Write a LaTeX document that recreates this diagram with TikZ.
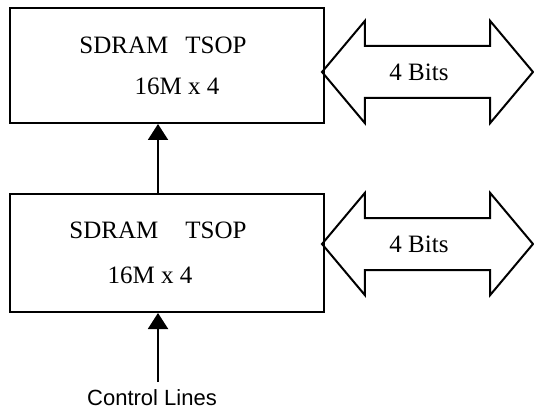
\documentclass[tikz,border=0pt]{standalone}
\usepackage{fontspec}
\setmainfont{Liberation Serif}
\setsansfont{Liberation Sans}
\usepackage{xcolor}
\usepackage{tikz}
\usetikzlibrary{shapes.arrows, arrows.meta, positioning, calc}
\definecolor{linecolor}{RGB}{0,0,0}

\begin{document}
\begin{tikzpicture}[
    x=0.5pt, y=-0.5pt,
    chip/.style={draw=linecolor, line width=1pt, minimum width=157pt, align=center, inner sep=0pt, font=\fontsize{12.5}{15}\selectfont},
    bus/.style={draw=linecolor, line width=1pt, shape=double arrow, double arrow head extend=12.5pt, double arrow tip angle=100, minimum height=105.5pt, inner xsep=0pt, inner ysep=8.2pt, text height=8.6pt, text depth=0pt, font=\fontsize{12.5}{15}\selectfont},
    ctrlarrow/.style={draw=linecolor, line width=1pt, -{Triangle[width=10pt, length=8pt]}}
]
    \useasboundingbox (0,0) rectangle (534,411);

    % memory chips
    \node[chip, minimum height=57.5pt] (chiptop) at (167,65.5)
        {SDRAM\hspace{8.5pt}TSOP\hspace*{4pt}\\[5.5pt]\hspace*{10pt}16M x 4};
    \node[chip, minimum height=59pt] (chipbot) at (167,253)
        {SDRAM\hspace{13.5pt}TSOP\hspace*{9pt}\\[7.5pt]16M x 4\hspace*{17pt}};

    % data buses
    \node[bus] (bustop) at (427.5,72) {4 Bits\hspace*{8.5pt}};
    \node[bus] (busbot) at (427.5,244) {4 Bits\hspace*{8.5pt}};

    % control
    \node[font=\sffamily\fontsize{11}{13}\selectfont, inner sep=4pt] (ctrl) at (152,398) {Control Lines};
    \coordinate (feed) at (158,382);
    \draw[ctrlarrow] (feed) -- (feed |- chipbot.south);
    \draw[ctrlarrow] (chipbot.north -| feed) -- (chiptop.south -| feed);
\end{tikzpicture}
\end{document}
